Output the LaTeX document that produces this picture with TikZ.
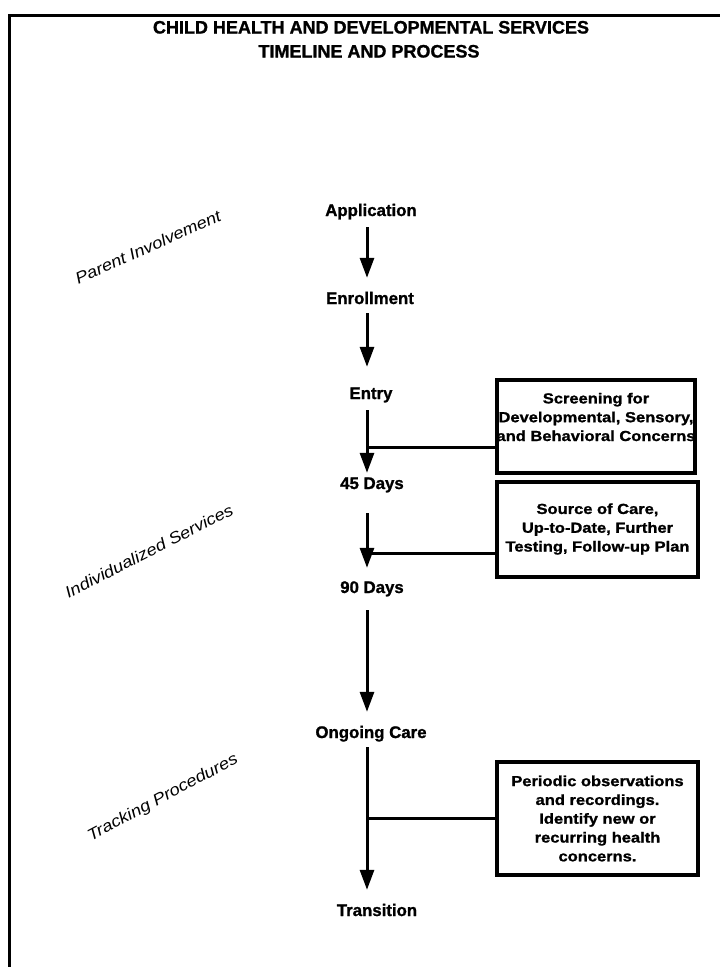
\documentclass[tikz,border=0pt]{standalone}
\usepackage{fontspec}
\setmainfont[BoldFeatures={FakeBold=1.2}]{Liberation Sans}
\newfontfamily\boxfont[FakeStretch=1.13,BoldFeatures={FakeBold=1.2,FakeStretch=1.13}]{Liberation Sans}
\usetikzlibrary{arrows.meta}
\begin{document}
\begin{tikzpicture}[x=1pt,y=-1pt,
  titletext/.style={font=\fontsize{18}{20}\selectfont\bfseries, inner sep=0pt, text height=13pt, text depth=0pt},
  stage/.style={font=\fontsize{16.8}{20}\selectfont\bfseries, inner sep=0pt, text height=12pt, text depth=0pt},
  flow/.style={line width=3pt, -{Triangle[width=14pt,length=20pt]}},
  link/.style={line width=3pt},
  infobox/.style={draw, line width=3.5pt, inner sep=0pt},
  boxtext/.style={align=center, inner sep=0pt, font=\boxfont\fontsize{14.6}{18.8}\selectfont\bfseries},
  side/.style={inner sep=0pt, font=\boxfont\fontsize{16.2}{18}\selectfont\itshape}]
\useasboundingbox (0,0) rectangle (720,967);
% outer frame
\draw[line width=3pt] (9,967) -- (9,15) -- (720,15);
% title
\node[titletext] (t1) at (371,27) {CHILD HEALTH AND DEVELOPMENTAL SERVICES};
\node[titletext] (t2) at (369,51) {TIMELINE AND PROCESS};
% spine
\coordinate (spine) at (367,0);
% stages
\node[stage] (app) at (371,210) {Application};
\node[stage] (enr) at (370,298) {Enrollment};
\node[stage] (entry) at (371,393) {Entry};
\node[stage] (d45) at (372,483) {45 Days};
\node[stage] (d90) at (372,587) {90 Days};
\node[stage] (ong) at (371,732) {Ongoing Care};
\node[stage] (trans) at (377,910) {Transition};
% arrows
\draw[flow, shorten <=11pt, shorten >=14pt] (app.south -| spine) -- (enr.north -| spine);
\draw[flow, shorten <=9pt, shorten >=20pt] (enr.south -| spine) -- (entry.north -| spine);
\draw[flow, shorten <=11pt, shorten >=4pt] (entry.south -| spine) -- (d45.north -| spine);
\draw[flow, shorten <=24pt, shorten >=13pt] (d45.south -| spine) -- (d90.north -| spine);
\draw[flow, shorten <=17pt, shorten >=14pt] (d90.south -| spine) -- (ong.north -| spine);
\draw[flow, shorten <=9pt, shorten >=14pt] (ong.south -| spine) -- (trans.north -| spine);
% boxes
\node[infobox, minimum width=198pt, minimum height=93pt] (box1) at (596,426.5) {};
\node[boxtext] (box1t) at (596,417) {Screening for\\Developmental, Sensory,\\and Behavioral Concerns};
\node[infobox, minimum width=201pt, minimum height=95pt] (box2) at (597.5,529.5) {};
\node[boxtext] (box2t) at (597.5,529) {Source of Care,\\Up-to-Date, Further\\Testing, Follow-up Plan};
\node[infobox, minimum width=201pt, minimum height=113pt] (box3) at (597.5,818.5) {};
\node[boxtext] (box3t) at (597.5,818.5) {Periodic observations\\and recordings.\\Identify new or\\recurring health\\concerns.};
% junctions
\coordinate (j1) at (367,447);
\coordinate (j2) at (367,553);
\coordinate (j3) at (367,818);
\draw[link] (box1.west |- j1) -- (j1);
\draw[link] (box2.west |- j2) -- (j2);
\draw[link] (box3.west |- j3) -- (j3);
% side labels
\node[side, rotate=24] (pi) at (148,247) {Parent Involvement};
\node[side, rotate=27] (is) at (149,551) {Individualized Services};
\node[side, rotate=28] (tp) at (163,798) {Tracking Procedures};
\end{tikzpicture}
\end{document}
